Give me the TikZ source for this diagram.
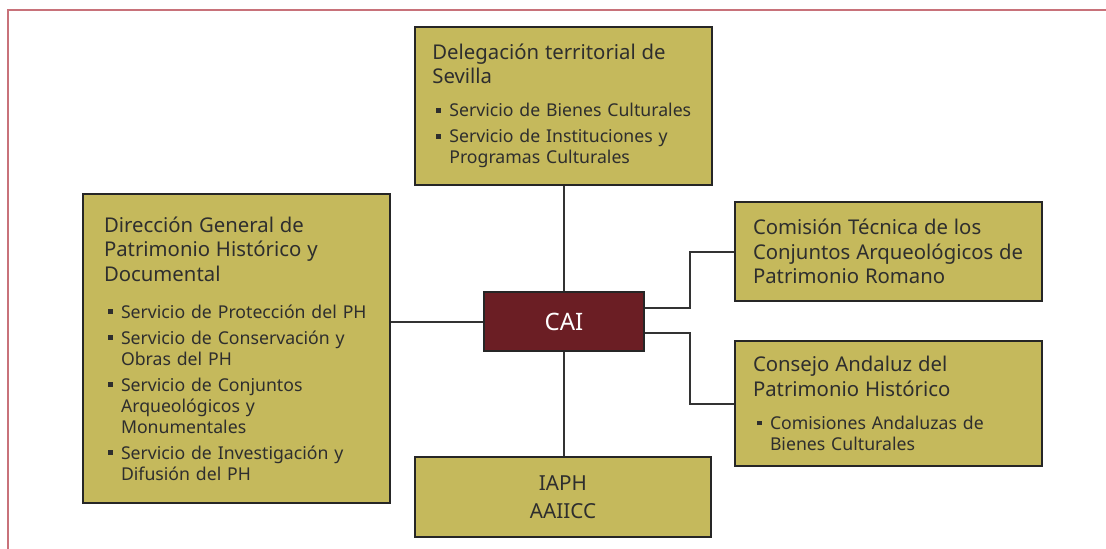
\documentclass[tikz,border=0pt]{standalone}
\usepackage{fontspec}
\setmainfont{Noto Sans}
\usepackage{tikz}
\usetikzlibrary{positioning,calc}
\definecolor{cgold}{HTML}{C5B95C}
\definecolor{cedge}{HTML}{262626}
\definecolor{cwine}{HTML}{6B1E24}
\definecolor{cink}{HTML}{2E2E2E}
\definecolor{cframe}{HTML}{C8727A}
\definecolor{cwire}{HTML}{333333}
\setlength{\parindent}{0pt}
\newcommand{\hd}[2][5.25pt]{{\fontsize{15.25pt}{18.25pt}\selectfont #2\par}\vspace{#1}}
\newcommand{\itm}[1]{\par\vspace{3.75pt}\hangindent=12.75pt\hangafter=1\noindent
  \makebox[12.75pt][l]{\hspace{3pt}\rule[3.2pt]{3.4pt}{3.4pt}}#1\par}

\begin{document}
\begin{tikzpicture}[x=0.75pt,y=-0.75pt,
  box/.style={draw=cedge,line width=1.1pt,fill=cgold,text=cink,inner ysep=0pt,
              inner xsep=13.5pt,align=left,font=\fontsize{13.25pt}{15.75pt}\selectfont},
  hub/.style={draw=cedge,line width=1.1pt,fill=cwine,text=white,
              minimum width=120pt,minimum height=44.25pt,font=\fontsize{18pt}{22pt}\selectfont},
  wire/.style={draw=cwire,line width=1.5pt},
  frame/.style={draw=cframe,line width=1.1pt}]
  \useasboundingbox (0,0) rectangle (1106,549);
  \draw[frame] (1106,10) -- (8,10) -- (8,549);

  \node[hub] (cai) at (564,321.5) {CAI};

  \node[box,minimum width=222.75pt,minimum height=118.5pt,inner xsep=13pt,
    text width=196.75pt] (dts) at (563.5,106) {\hd{Delegación territorial de\newline Sevilla}
    \itm{Servicio de Bienes Culturales}
    \itm{Servicio de Instituciones y\newline Programas Culturales}};

  \node[box,minimum width=230.25pt,minimum height=231.75pt,inner xsep=15.75pt,
    text width=198.75pt] (dgph) at (236.5,348.5) {\hd[8.25pt]{Dirección General de\newline
    Patrimonio Histórico y\newline Documental}
    \itm{Servicio de Protección del PH}
    \itm{Servicio de Conservación y\newline Obras del PH}
    \itm{Servicio de Conjuntos\newline Arqueológicos y\newline Monumentales}
    \itm{Servicio de Investigación y\newline Difusión del PH}};

  \node[box,minimum width=230.25pt,minimum height=74.25pt,text width=203.25pt]
    (ctc) at (888.5,251.5) {{\fontsize{15.25pt}{18.25pt}\selectfont Comisión Técnica de los\newline
    Conjuntos Arqueológicos de\newline Patrimonio Romano\par}};

  \node[box,minimum width=230.25pt,minimum height=93.75pt,text width=203.25pt]
    (cahp) at (888.5,403.5) {\hd{Consejo Andaluz del\newline Patrimonio Histórico}
    \itm{Comisiones Andaluzas de\newline Bienes Culturales}};

  \node[box,minimum width=222pt,minimum height=60pt,align=center,
    font=\fontsize{15.5pt}{21pt}\selectfont] (iaph) at (563,497) {IAPH\\AAIICC};

  \draw[wire] (cai.north) -- (cai.north |- dts.south);
  \draw[wire] (cai.south) -- (cai.south |- iaph.north);
  \draw[wire] (cai.west) -- (cai.west -| dgph.east);
  \draw[wire] ($(cai.east)+(0,-13.5)$) -- ++(45,0) |- (ctc.west);
  \draw[wire] ($(cai.east)+(0,11.5)$) -- ++(45,0) |- (cahp.west);
\end{tikzpicture}
\end{document}
